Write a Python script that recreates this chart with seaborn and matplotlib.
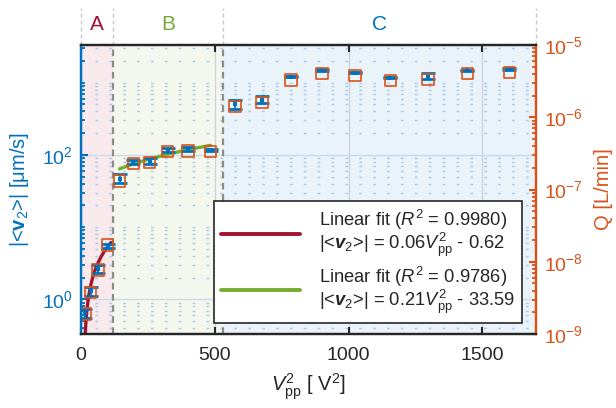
import numpy as np
import pandas as pd
import matplotlib
matplotlib.use("Agg")
import matplotlib.pyplot as plt
import matplotlib.ticker as mticker
import matplotlib.transforms as mtrans
from matplotlib.lines import Line2D
import seaborn as sns

# ---------------- data ----------------
vpp2 = [16, 36, 64, 100, 144, 196, 256, 324, 400, 484,
        576, 676, 784, 900, 1024, 1156, 1296, 1444, 1600]
v2_mean = [0.64, 1.29, 2.66, 5.5, 47, 80, 83, 117, 121, 117,
           504, 579, 1208, 1483, 1371, 1170, 1236, 1483, 1556]
v2_err = [0.09, 0.18, 0.36, 0.35, 6.6, 5, 8, 6, 8, 2.5,
          78, 63, 30, 35, 30, 25, 115, 30, 55]
flow_q = [1.89e-9, 3.73e-9, 7.69e-9, 1.71e-8, 1.32e-7, 2.31e-7, 2.35e-7,
          3.33e-7, 3.41e-7, 3.33e-7, 1.40e-6, 1.59e-6, 3.28e-6, 4.06e-6,
          3.76e-6, 3.21e-6, 3.35e-6, 4.06e-6, 4.14e-6]

fitA_coef = [0.06, -0.62]
fitA_span = [16, 112]
fitB_coef = [0.21, 33.59]
fitB_span = [144, 484]

region_edges = [0, 121, 529, 1700]
region_names = ["A", "B", "C"]
x_ticks = [0, 500, 1000, 1500]
v_ticks = [1, 100]
q_ticks = [1e-9, 1e-8, 1e-7, 1e-6, 1e-5]

legend_labels = [
    "Linear fit ($R^2$ = 0.9980)\n|<$\\mathbfit{v}_2$>| = 0.06$V_{\\rm pp}^2$ - 0.62",
    "Linear fit ($R^2$ = 0.9786)\n|<$\\mathbfit{v}_2$>| = 0.21$V_{\\rm pp}^2$ - 33.59",
]

# ---------------- style ----------------
BLUE = "#0072BD"
ORANGE = "#D95319"
RED = "#A2142F"
GREEN = "#77AC30"
DARK = "#262626"
region_fill = ["#F8E9EC", "#F4F7EE", "#EAF2FA"]
region_txt = [RED, GREEN, BLUE]

sns.set_theme(style="white")
plt.rcParams["font.family"] = ["Liberation Sans", "DejaVu Sans"]
plt.rcParams["mathtext.fontset"] = "custom"
plt.rcParams["mathtext.rm"] = "Liberation Sans"
plt.rcParams["mathtext.it"] = "Liberation Sans:italic"
plt.rcParams["mathtext.bf"] = "Liberation Sans:bold"
plt.rcParams["mathtext.bfit"] = "Liberation Sans:italic:bold"

df = pd.DataFrame({"vpp2": vpp2, "v2": v2_mean, "err": v2_err, "Q": flow_q})

fig = plt.figure(figsize=(6.16, 4.08), dpi=100)
ax = fig.add_axes([81 / 616, 1 - 334 / 408, 455 / 616, 289 / 408])
ax.set_facecolor("white")

ax.set_xscale("linear")
ax.set_yscale("log")
ax.set_xlim(region_edges[0], region_edges[-1])
ax.set_ylim(10 ** -0.48, 10 ** 3.52)

# region shading
for (x0, x1), c in zip(zip(region_edges[:-1], region_edges[1:]), region_fill):
    ax.axvspan(x0, x1, color=c, zorder=0, lw=0)

# grid
ax.yaxis.set_major_locator(mticker.FixedLocator(v_ticks))
ax.yaxis.set_minor_locator(mticker.LogLocator(base=10, subs=np.arange(1, 10), numticks=50))
ax.yaxis.set_major_formatter(mticker.LogFormatterMathtext())
ax.yaxis.set_minor_formatter(mticker.NullFormatter())
ax.set_xticks(x_ticks)
ax.grid(True, which="major", axis="y", color="#C9DBE8", lw=1.0, zorder=0.5)
ax.grid(True, which="minor", axis="y", color="#A9CBE6", lw=1.0, ls=(0, (2, 8)), zorder=0.5)
ax.grid(True, which="major", axis="x", color="#CCD3DA", lw=1.0, zorder=0.5)

# region boundaries (dashed) and names
trans = mtrans.blended_transform_factory(ax.transData, ax.transAxes)
top_frac = (334 - 8) / 289
for xb in region_edges[1:-1]:
    ax.plot([xb, xb], [0, 1], transform=trans, color="#8C8C8C", lw=1.6,
            ls=(0, (3, 2)), zorder=1.5, clip_on=False)
for xb in region_edges:
    ax.plot([xb, xb], [1, top_frac], transform=trans, color="#C8C8C8", lw=1.0,
            ls=(0, (3, 2)), zorder=1.5, clip_on=False)
for (x0, x1), name, c in zip(zip(region_edges[:-1], region_edges[1:]), region_names, region_txt):
    ax.text((x0 + x1) / 2, (334 - 25) / 289, name, transform=trans, color=c,
            fontsize=15, ha="center", va="center")

# fit lines
xa = np.linspace(fitA_span[0], fitA_span[1], 200)
xb_ = np.linspace(fitB_span[0], fitB_span[1], 200)
sns.lineplot(x=xa, y=np.polyval(fitA_coef, xa), ax=ax, color=RED, lw=2.4, zorder=3)
sns.lineplot(x=xb_, y=np.polyval(fitB_coef, xb_), ax=ax, color=GREEN, lw=2.4, zorder=3)

# velocity data with error bars
ax.errorbar(df["vpp2"], df["v2"], yerr=df["err"], fmt="none", ecolor=BLUE,
            elinewidth=1.3, capsize=5.3, capthick=2.0, zorder=4)
sns.scatterplot(data=df, x="vpp2", y="v2", ax=ax, color=BLUE, marker="s", s=12,
                edgecolor=BLUE, linewidth=0, zorder=5)

# flow-rate axis
ax2 = ax.twinx()
ax2.set_yscale("log")
ax2.set_ylim(q_ticks[0], q_ticks[-1])
ax2.patch.set_visible(False)
sns.scatterplot(data=df, x="vpp2", y="Q", ax=ax2, marker="s", s=68,
                facecolor="none", edgecolor=ORANGE, linewidth=1.2, zorder=6)
ax2.yaxis.set_major_locator(mticker.FixedLocator(q_ticks))
ax2.yaxis.set_minor_locator(mticker.LogLocator(base=10, subs=np.arange(2, 10), numticks=50))
ax2.yaxis.set_major_formatter(mticker.LogFormatterMathtext())
ax2.yaxis.set_minor_formatter(mticker.NullFormatter())
ax2.set_xlim(region_edges[0], region_edges[-1])
ax2.set_ylim(q_ticks[0], q_ticks[-1])
ax2.set_xlabel("")
ax2.xaxis.set_visible(False)
for a in (ax, ax2):
    a.xaxis.get_offset_text().set_visible(False)
    a.yaxis.get_offset_text().set_visible(False)

# spines and ticks
for a in (ax, ax2):
    for s in a.spines.values():
        s.set_linewidth(1.6)
        s.set_color(DARK)
        s.set_zorder(10)
    a.spines["left"].set_color(BLUE)
    a.spines["right"].set_color(ORANGE)

ax.tick_params(axis="x", which="both", direction="in", top=True, bottom=True,
               length=5, width=1.5, color=DARK, labelsize=14, labelcolor=DARK, pad=9)
ax.tick_params(axis="y", which="major", direction="in", left=True, right=False,
               length=5, width=1.5, color=BLUE, labelsize=14, labelcolor=BLUE, pad=6)
ax.tick_params(axis="y", which="minor", direction="in", left=True, right=False,
               length=3, width=1.3, color=BLUE)
ax2.tick_params(axis="y", which="major", direction="in", right=True, left=False,
                length=5, width=1.5, color=ORANGE, labelsize=14, labelcolor=ORANGE, pad=6)
ax2.tick_params(axis="y", which="minor", direction="in", right=True, left=False,
                length=3, width=1.3, color=ORANGE)

ax.set_xlabel("$V_{\\rm pp}^2$ [ V$^2$]", fontsize=14.5, color=DARK, labelpad=6)
ax.set_ylabel("|<$\\mathbf{v}_2$>| [μm/s]", fontsize=14.5, color=BLUE, labelpad=8)
ax2.set_ylabel("Q [L/min]", fontsize=14.5, color=ORANGE, labelpad=8)

# legend
handles = [Line2D([0], [0], color=RED, lw=2.8), Line2D([0], [0], color=GREEN, lw=2.8)]
leg = ax2.legend(handles, legend_labels, loc="lower right",
                 bbox_to_anchor=(0.969, 0.038), borderaxespad=0, fontsize=13.2,
                 frameon=True, fancybox=False, edgecolor=DARK, framealpha=1,
                 handlelength=4.3, handletextpad=1.0, labelspacing=0.3,
                 borderpad=0.4)
for t in leg.get_texts():
    t.set_linespacing(0.92)
leg.get_frame().set_linewidth(1.2)
leg.set_zorder(20)

fig.savefig("out.png", dpi=100)
